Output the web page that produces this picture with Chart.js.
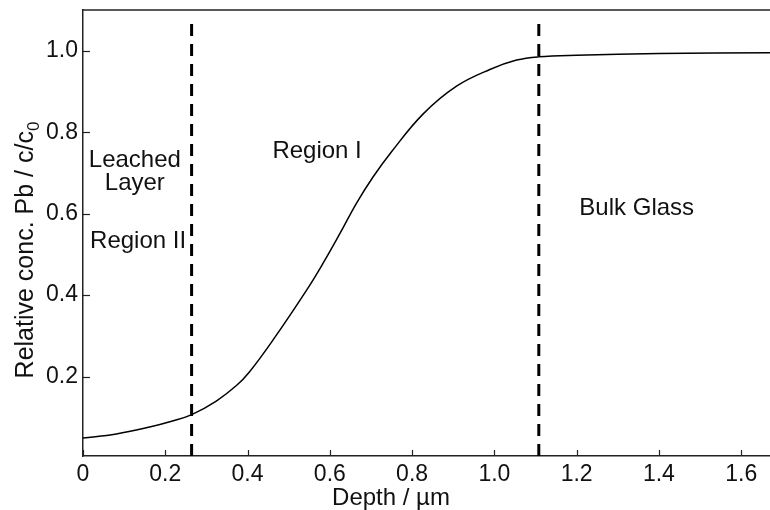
<!DOCTYPE html>
<html>
<head>
<meta charset="utf-8">
<script src="https://cdn.jsdelivr.net/npm/chart.js@4"></script>
<style>
  html, body { margin: 0; padding: 0; background: #fff; }
  #wrap { width: 770px; height: 510px; }
</style>
</head>
<body>
<div id="wrap"><canvas id="profileChart"></canvas></div>
<script>
// Data
const depth = [0, 0.081, 0.162, 0.211, 0.263, 0.324, 0.373, 0.405, 0.462, 0.544, 0.584, 0.625, 0.665, 0.705, 0.750, 0.827, 0.908, 0.989, 1.054, 1.107, 1.2, 1.4, 1.67];
const conc = [0.049, 0.059, 0.076, 0.089, 0.106, 0.140, 0.178, 0.212, 0.290, 0.413, 0.479, 0.552, 0.626, 0.690, 0.752, 0.845, 0.913, 0.954, 0.977, 0.985, 0.989, 0.993, 0.995];
const boundaries = [0.264, 1.108];
const xTicks = [0, 0.2, 0.4, 0.6, 0.8, 1.0, 1.2, 1.4, 1.6];
const yTicks = [0.2, 0.4, 0.6, 0.8, 1.0];

const FONT = '"Liberation Sans", Arial, sans-serif';

// Text labels inside the plot (data coords, alphabetic baseline)
const notes = [
    { text: 'Leached', x: 0.126, y: 0.715 },
    { text: 'Layer', x: 0.126, y: 0.659 },
    { text: 'Region II', x: 0.134, y: 0.516 },
    { text: 'Region I', x: 0.569, y: 0.737 },
    { text: 'Bulk Glass', x: 1.346, y: 0.597 }
];

const datasets = [{
    data: depth.map((d, i) => ({ x: d, y: conc[i] })),
    borderColor: '#000',
    borderWidth: 1.5,
    showLine: true,
    pointRadius: 0,
    tension: 0.4
}];
boundaries.forEach(b => {
    datasets.push({
        data: [{ x: b, y: 0.005 }, { x: b, y: 1.085 }],
        borderColor: '#000',
        borderWidth: 3,
        borderDash: [12, 8],
        showLine: true,
        pointRadius: 0
    });
});

const decorations = {
    id: 'decorations',
    afterDraw(chart) {
        const c = chart.ctx;
        const a = chart.chartArea;
        const xs = chart.scales.x, ys = chart.scales.y;
        c.save();
        c.strokeStyle = '#222';
        c.lineWidth = 1.5;
        // top border
        c.beginPath();
        c.moveTo(a.left, a.top);
        c.lineTo(a.right, a.top);
        c.stroke();
        // inward ticks
        c.lineWidth = 1.2;
        xTicks.forEach(v => {
            const px = Math.round(xs.getPixelForValue(v)) + 0.5;
            c.beginPath();
            c.moveTo(px, a.bottom);
            c.lineTo(px, a.bottom - 6);
            c.stroke();
        });
        yTicks.forEach(v => {
            const py = Math.round(ys.getPixelForValue(v)) + 0.5;
            c.beginPath();
            c.moveTo(a.left, py);
            c.lineTo(a.left + 7, py);
            c.stroke();
        });
        // notes
        c.fillStyle = '#111';
        c.font = '24px ' + FONT;
        c.textAlign = 'center';
        c.textBaseline = 'alphabetic';
        notes.forEach(n => {
            c.fillText(n.text, xs.getPixelForValue(n.x), ys.getPixelForValue(n.y));
        });
        // x title
        c.fillText('Depth / \u00b5m', 391, 505);
        // y title with subscript
        c.translate(33, 250);
        c.rotate(-Math.PI / 2);
        const main = 'Relative conc. Pb / c/c';
        c.font = '25px ' + FONT;
        const w1 = c.measureText(main).width;
        c.font = '17px ' + FONT;
        const w2 = c.measureText('0').width;
        const start = -(w1 + w2) / 2;
        c.textAlign = 'left';
        c.font = '25px ' + FONT;
        c.fillText(main, start, 0);
        c.font = '17px ' + FONT;
        c.fillText('0', start + w1, 6);
        c.restore();
    }
};

new Chart(document.getElementById('profileChart').getContext('2d'), {
    type: 'scatter',
    data: { datasets },
    options: {
        responsive: true,
        maintainAspectRatio: false,
        animation: false,
        layout: { padding: { top: 10, right: 0, left: 0, bottom: 0 } },
        plugins: { legend: { display: false }, tooltip: { enabled: false } },
        scales: {
            x: {
                type: 'linear',
                min: 0,
                max: 1.67,
                afterFit: s => { s.height = 54; s.paddingLeft = 0; s.paddingRight = 0; },
                grid: { display: false, drawTicks: false },
                border: { display: true, color: '#222', width: 1.5 },
                ticks: {
                    stepSize: 0.2,
                    includeBounds: false,
                    padding: 5,
                    color: '#111',
                    font: { family: FONT, size: 23 },
                    callback: v => (v === 0 ? '0' : v.toFixed(1))
                }
            },
            y: {
                type: 'linear',
                min: 0.005,
                max: 1.1,
                afterFit: s => { s.width = 83; s.paddingTop = 0; s.paddingBottom = 0; },
                grid: { display: false, drawTicks: false },
                border: { display: true, color: '#222', width: 1.5 },
                afterBuildTicks: s => { s.ticks = yTicks.map(v => ({ value: v })); },
                ticks: {
                    padding: 5,
                    color: '#111',
                    font: { family: FONT, size: 23 },
                    callback: v => v.toFixed(1)
                }
            }
        }
    },
    plugins: [decorations]
});
</script>
</body>
</html>
